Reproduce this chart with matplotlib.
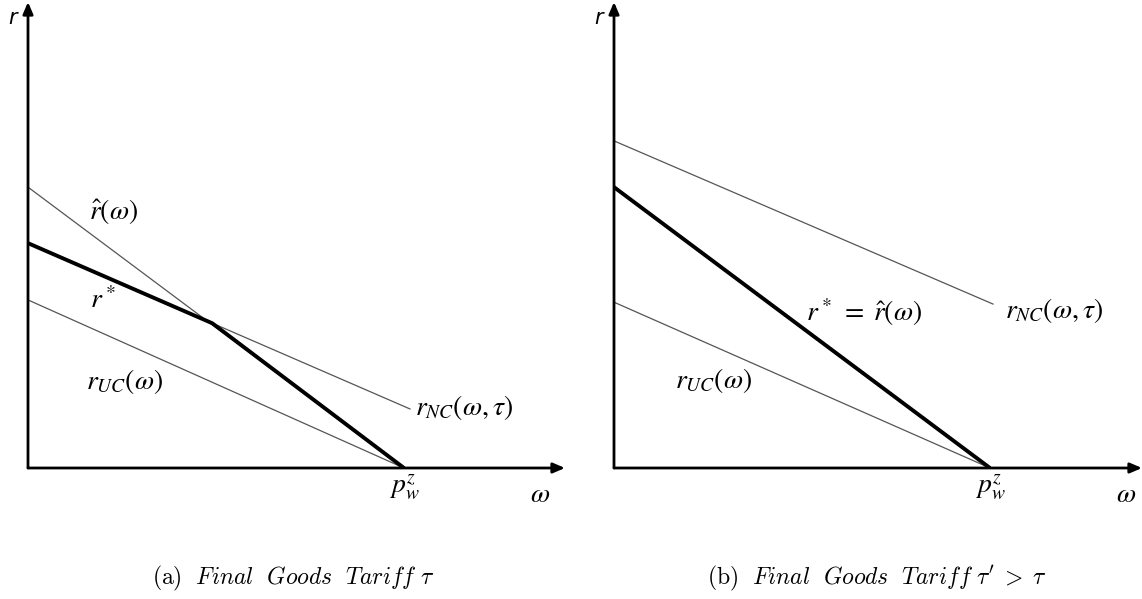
import matplotlib.pyplot as plt

# panel (a): final goods tariff tau  (omega in units of p_w^z)
a_hat_w = [0.0, 1.0]
a_hat_r = [0.747, 0.0]
a_nc_w = [0.0, 1.016]
a_nc_r = [0.598, 0.157]
a_uc_w = [0.0, 1.0]
a_uc_r = [0.447, 0.0]
a_star_w = [0.0, 0.49, 1.0]
a_star_r = [0.598, 0.385, 0.0]

# panel (b): final goods tariff tau' > tau
b_nc_w = [0.0, 1.008]
b_nc_r = [0.870, 0.436]
b_uc_w = [0.0, 1.0]
b_uc_r = [0.441, 0.0]
b_star_w = [0.0, 1.0]
b_star_r = [0.747, 0.0]

W, H = 1142, 599
fig = plt.figure(figsize=(W / 100, H / 100), dpi=100)

thin = dict(color='#555555', lw=0.9)
thick = dict(color='black', lw=2.8, solid_capstyle='butt')
lab = dict(fontsize=20, math_fontfamily='stix', ha='center', va='center')


def make_axes(left_px, right_px):
    ax = fig.add_axes([left_px / W, (H - 468) / H, (right_px - left_px) / W, 466 / H])
    ax.set_xlim(0, (right_px - left_px) / 376)
    ax.set_ylim(0, 466 / 376)
    ax.axis('off')
    arr = dict(arrowstyle='-|>,head_length=0.7,head_width=0.3', lw=2, color='black',
               shrinkA=0, shrinkB=0)
    ax.annotate('', xy=(1, 0), xytext=(0, 0), xycoords='axes fraction', arrowprops=arr)
    ax.annotate('', xy=(0, 1), xytext=(0, 0), xycoords='axes fraction', arrowprops=arr)
    ax.text(-0.04, 1.197, 'r', fontsize=15, style='italic', family='DejaVu Sans',
            ha='center', va='center', clip_on=False)
    ax.text(1.0, -0.053, r'$p_w^z$', clip_on=False, **lab)
    ax.text(1.363, -0.069, r'$\omega$', clip_on=False, **lab)
    return ax


ax1 = make_axes(28, 565)
ax1.plot(a_hat_w, a_hat_r, **thin)
ax1.plot(a_nc_w, a_nc_r, **thin)
ax1.plot(a_uc_w, a_uc_r, **thin)
ax1.plot(a_star_w, a_star_r, **thick)
ax1.text(0.226, 0.683, r'$\hat{r}(\omega)$', **lab)
ax1.text(0.199, 0.447, r'$r^*$', **lab)
ax1.text(0.258, 0.231, r'$r_{UC}(\omega)$', **lab)
ax1.text(1.029, 0.160, r'$r_{NC}(\omega,\tau)$', clip_on=False,
         **{**lab, 'ha': 'left'})

ax2 = make_axes(614, 1142)
ax2.plot(b_nc_w, b_nc_r, **thin)
ax2.plot(b_uc_w, b_uc_r, **thin)
ax2.plot(b_star_w, b_star_r, **thick)
ax2.text(0.665, 0.415, r'$r^*\;=\;\hat{r}(\omega)$', **lab)
ax2.text(1.040, 0.420, r'$r_{NC}(\omega,\tau)$', clip_on=False,
         **{**lab, 'ha': 'left'})
ax2.text(0.266, 0.234, r'$r_{UC}(\omega)$', **lab)

cap = dict(fontsize=17, math_fontfamily='cm', ha='center', va='center')
fig.text(293 / W, 1 - 578 / H, r'$\mathrm{(a)}\ \ \mathit{Final\ \ Goods\ \ Tariff}\ \tau$', **cap)
fig.text(877 / W, 1 - 578 / H,
         r"$\mathrm{(b)}\ \ \mathit{Final\ \ Goods\ \ Tariff}\ \tau'\;>\;\tau$", **cap)

fig.savefig('out.png', dpi=100)
